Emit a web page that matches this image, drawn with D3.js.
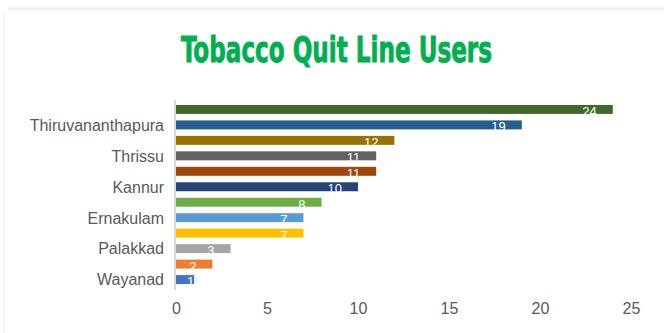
<!DOCTYPE html>
<html>
<head>
<meta charset="utf-8">
<script src="https://cdn.jsdelivr.net/npm/d3@7"></script>
<style>
  body { margin: 0; background: #fff; }
  svg { display: block; }
</style>
</head>
<body>
<div id="main"></div>
<script>
'use strict'

// categories listed top to bottom; only every other one gets a tick label
const districts = ['Kozhikode', 'Thiruvananthapura', 'Kollam', 'Thrissu', 'Malappuram', 'Kannur',
                   'Kottayam', 'Ernakulam', 'Alappuzha', 'Palakkad', 'Kasaragod', 'Wayanad'];
const users = [24, 19, 12, 11, 11, 10, 8, 7, 7, 3, 2, 1];
const shownLabels = ['Thiruvananthapura', 'Thrissu', 'Kannur', 'Ernakulam', 'Palakkad', 'Wayanad'];
const barColors = ['#43682B', '#255E91', '#997300', '#636363', '#9E480E', '#264478',
                   '#70AD47', '#5B9BD5', '#FFC000', '#A5A5A5', '#ED7D31', '#4472C4'];
const xTicks = [0, 5, 10, 15, 20, 25];

const svgWidth = 664;
const svgHeight = 333;

const svg = d3.select('#main')
  .append('svg')
  .attr('width', svgWidth)
  .attr('height', svgHeight);

// faint card shadow
const defs = svg.append('defs');
const grad = defs.append('linearGradient').attr('id', 'topShade')
  .attr('x1', 0).attr('y1', 0).attr('x2', 0).attr('y2', 1);
grad.append('stop').attr('offset', '0%').attr('stop-color', '#fff');
grad.append('stop').attr('offset', '100%').attr('stop-color', '#ececec');
svg.append('rect')
  .attr('x', 8).attr('y', 5).attr('width', svgWidth - 8).attr('height', 5)
  .attr('fill', 'url(#topShade)');
svg.append('line')
  .attr('x1', 4.5).attr('x2', 4.5).attr('y1', 14).attr('y2', svgHeight)
  .attr('stroke', '#f1f1f1');

// title
svg.append('text')
  .text('Tobacco Quit Line Users')
  .attr('x', 336.5)
  .attr('y', 62)
  .attr('text-anchor', 'middle')
  .attr('font-family', '"DejaVu Sans Condensed", "Liberation Sans Narrow", sans-serif')
  .attr('font-weight', 'bold')
  .attr('font-size', '36px')
  .attr('textLength', 311)
  .attr('lengthAdjust', 'spacingAndGlyphs')
  .attr('fill', '#00B050')
  .attr('stroke', '#00B050')
  .attr('stroke-width', 0.9);

// scales
const xScale = d3.scaleLinear()
  .domain([0, 25])
  .range([176, 631]);

const yScale = d3.scaleBand()
  .domain(districts)
  .range([101.7, 287.3])
  .paddingInner(0.42)
  .paddingOuter(0.21);

// bars
svg.selectAll('rect.bar')
  .data(districts)
  .enter()
  .append('rect')
  .attr('class', 'bar')
  .attr('x', xScale(0))
  .attr('y', d => yScale(d))
  .attr('width', (d, i) => xScale(users[i]) - xScale(0))
  .attr('height', yScale.bandwidth())
  .attr('fill', (d, i) => barColors[i]);

// value labels
svg.selectAll('text.val')
  .data(districts)
  .enter()
  .append('text')
  .attr('class', 'val')
  .text((d, i) => users[i])
  .attr('x', (d, i) => {
    let pos = xScale(users[i]) - 16;
    return pos < xScale(0) + 10 ? xScale(users[i]) : pos;
  })
  .attr('y', d => yScale(d) + yScale.bandwidth() + 2)
  .attr('text-anchor', 'end')
  .attr('font-family', 'Arial, "Liberation Sans", sans-serif')
  .attr('font-size', '13px')
  .attr('fill', '#fff');

// y axis line
svg.append('line')
  .attr('x1', 175).attr('x2', 175)
  .attr('y1', 100).attr('y2', 290)
  .attr('stroke', '#d9d9d9')
  .attr('stroke-width', 2);

// category labels
svg.selectAll('text.cat')
  .data(shownLabels)
  .enter()
  .append('text')
  .attr('class', 'cat')
  .text(d => d)
  .attr('x', 164)
  .attr('y', d => yScale(d) + yScale.bandwidth() / 2 + 5.8)
  .attr('text-anchor', 'end')
  .attr('font-family', 'Arial, "Liberation Sans", sans-serif')
  .attr('font-size', '16px')
  .attr('fill', '#595959');

// x axis
const xAxis = d3.axisBottom(xScale)
  .tickValues(xTicks)
  .tickSize(0)
  .tickPadding(0);

const gx = svg.append('g')
  .attr('transform', 'translate(0, 303)')
  .call(xAxis);
gx.select('.domain').remove();
gx.selectAll('text')
  .attr('dy', '0.71em')
  .attr('font-family', 'Arial, "Liberation Sans", sans-serif')
  .attr('font-size', '16px')
  .attr('fill', '#595959');
</script>
</body>
</html>
